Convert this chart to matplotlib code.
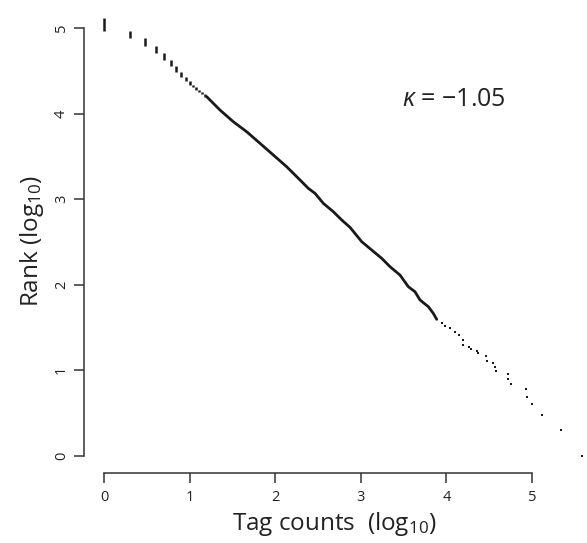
import numpy as np
import matplotlib
matplotlib.use("Agg")
import matplotlib.pyplot as plt

plt.rcParams['font.family'] = ['Open Sans', 'DejaVu Sans']
plt.rcParams['mathtext.fontset'] = 'custom'
plt.rcParams['mathtext.rm'] = 'Open Sans'
plt.rcParams['mathtext.it'] = 'Open Sans:italic'

# small counts: one vertical dash per count value (log10 rank span)
dash_counts = [1, 2, 3, 4, 5, 6, 7, 8, 9, 10, 11, 12, 13, 14, 15]
dash_rank_top = [5.12, 4.97, 4.88, 4.79, 4.71, 4.63, 4.56, 4.49, 4.43, 4.38,
                 4.34, 4.31, 4.28, 4.25, 4.23]
dash_rank_bot = [4.97, 4.88, 4.79, 4.71, 4.63, 4.56, 4.49, 4.43, 4.38, 4.34,
                 4.31, 4.28, 4.25, 4.23, 4.20]

# dense middle part (log10 count, log10 rank)
line_logcount = [1.20, 1.355, 1.511, 1.667, 1.822, 1.978, 2.134, 2.290, 2.387,
                 2.465, 2.562, 2.679, 2.777, 2.874, 3.011, 3.127, 3.244, 3.341,
                 3.458, 3.555, 3.633, 3.692, 3.789, 3.847, 3.887]
line_logrank = [4.199, 4.043, 3.906, 3.789, 3.654, 3.517, 3.380, 3.225, 3.127,
                3.069, 2.952, 2.854, 2.757, 2.671, 2.503, 2.406, 2.309, 2.211,
                2.113, 1.977, 1.918, 1.821, 1.743, 1.665, 1.595]

# most frequent tags, single points
tail_logcount = [3.945, 3.984, 4.042, 4.100, 4.151, 4.194, 4.194, 4.264, 4.287,
                 4.357, 4.369, 4.463, 4.474, 4.544, 4.568, 4.579, 4.720, 4.720,
                 4.755, 4.930, 4.942, 5.000, 5.117, 5.339, 5.584]
tail_logrank = [1.549, 1.517, 1.490, 1.450, 1.412, 1.353, 1.295, 1.272, 1.248,
                1.225, 1.201, 1.166, 1.108, 1.084, 1.037, 0.990, 0.955, 0.897,
                0.838, 0.780, 0.687, 0.605, 0.476, 0.301, 0.0]

kappa = -1.05

fig = plt.figure(figsize=(5.87, 5.43), dpi=100)
ax = fig.add_axes([0.1436, 0.1289, 0.853, 0.8527])

ink = '#1a1a1a'
ax.vlines(np.log10(dash_counts), dash_rank_bot, dash_rank_top, color=ink, lw=1.8)
ax.plot(line_logcount, line_logrank, '-', color=ink, lw=2.0, solid_capstyle='round')
ax.plot(tail_logcount, tail_logrank, 's', color=ink, ms=1.9, mew=0)

ax.set_xlim(-0.230, 5.619)
ax.set_ylim(-0.202, 5.213)

for s in ['top', 'right']:
    ax.spines[s].set_visible(False)
ax.spines['left'].set_bounds(0, 5)
ax.spines['bottom'].set_bounds(0, 5)
for s in ['left', 'bottom']:
    ax.spines[s].set_linewidth(1.1)
    ax.spines[s].set_color('#333333')

ax.set_xticks([0, 1, 2, 3, 4, 5])
ax.set_yticks([0, 1, 2, 3, 4, 5])
ax.tick_params(axis='both', direction='out', length=7, width=1.1, color='#333333',
               labelsize=10.5, labelcolor='#222222')
ax.tick_params(axis='x', pad=5)
ax.tick_params(axis='y', pad=4)
for lab in ax.get_yticklabels():
    lab.set_rotation(90)
    lab.set_va('center')

ax.set_xlabel('Tag counts  (log$_{10}$)', fontsize=17.5, color='#222222', labelpad=4)
ax.set_ylabel('Rank (log$_{10}$)', fontsize=17.5, color='#222222', labelpad=6)

ax.text(3.48, 4.17, r'$\kappa$ = $-$1.05', fontsize=18, color='#222222',
        va='center', ha='left')

fig.savefig('out.png', dpi=100)
